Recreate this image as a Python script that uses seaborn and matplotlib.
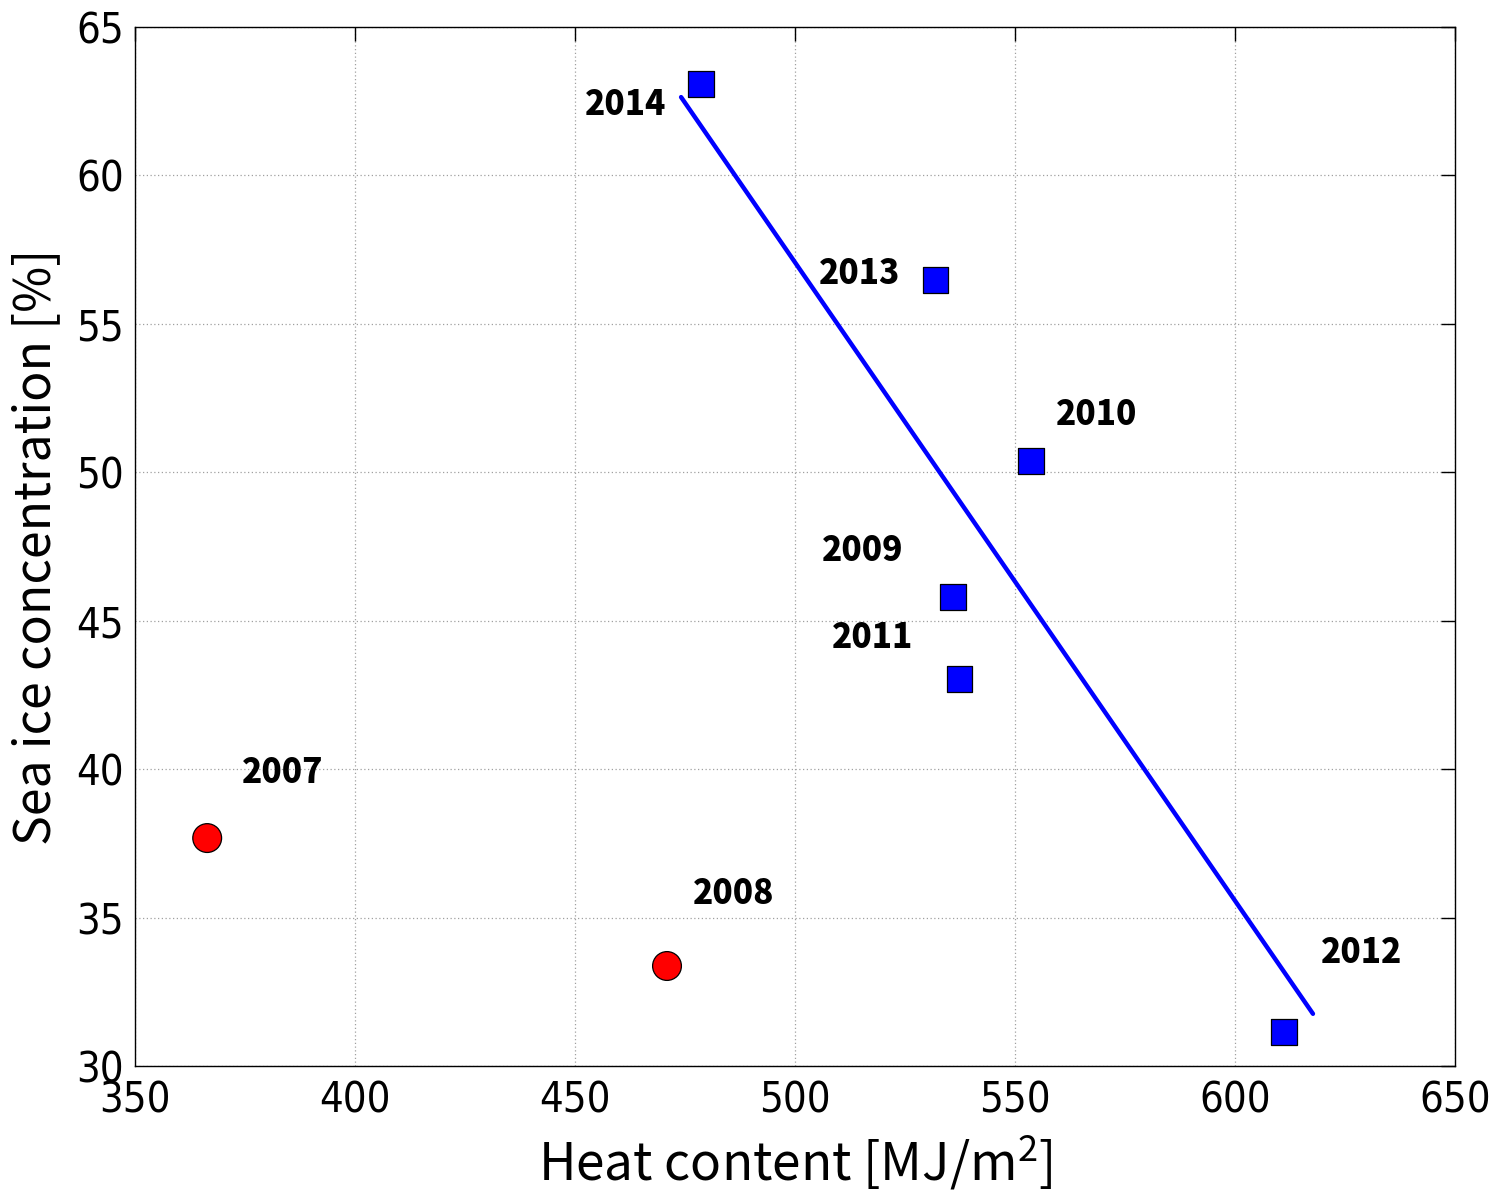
import matplotlib
matplotlib.use("Agg")
import matplotlib.pyplot as plt
import seaborn as sns
import pandas as pd
from matplotlib import font_manager

years = ["2007", "2008", "2009", "2010", "2011", "2012", "2013", "2014"]
heat = [366.4, 470.9, 535.9, 553.6, 537.3, 611.1, 532.0, 478.6]
ice = [37.68, 33.37, 45.8, 50.38, 43.04, 31.15, 56.48, 63.08]
group = ["early", "early", "late", "late", "late", "late", "late", "late"]
fit_x = [474.1, 617.7]
fit_y = [62.64, 31.76]
xticks = [350, 400, 450, 500, 550, 600, 650]
yticks = [30, 35, 40, 45, 50, 55, 60, 65]

# label offsets in points (layout)
offsets = {"2007": (54, 47.5), "2008": (48, 52.5), "2014": (-54, -14.4),
           "2013": (-54.7, 5), "2010": (47.5, 33.8), "2009": (-64.8, 33.8),
           "2011": (-62.6, 30.2), "2012": (56, 56.9)}

sns.set_style("white")
plt.rcParams["font.family"] = ["Noto Sans CJK JP", "DejaVu Sans"]
plt.rcParams["mathtext.fontset"] = "custom"
plt.rcParams["mathtext.rm"] = "Noto Sans CJK JP"
for k in ["text.color", "axes.labelcolor", "xtick.color", "ytick.color",
          "xtick.labelcolor", "ytick.labelcolor"]:
    plt.rcParams[k] = "black"

names = {f.name for f in font_manager.fontManager.ttflist}
if "Liberation Sans Narrow" in names:
    tickfont = dict(fontfamily="Liberation Sans Narrow", fontsize=32)
else:
    tickfont = dict(fontfamily="DejaVu Sans", fontstretch="condensed", fontsize=30)

df = pd.DataFrame({"year": years, "heat": heat, "ice": ice, "group": group})
fit = pd.DataFrame({"x": fit_x, "y": fit_y})

fig = plt.figure(figsize=(14.97, 11.97), dpi=100)
ax = fig.add_axes([0.0902, 0.1094, 0.8818, 0.868])

sns.lineplot(data=fit, x="x", y="y", ax=ax, color="#0000ff", linewidth=3.2, zorder=2)
sns.scatterplot(data=df, x="heat", y="ice", hue="group", style="group",
                size="group", sizes={"early": 430, "late": 330},
                palette={"early": "#ff0000", "late": "#0000ff"},
                markers={"early": "o", "late": "s"},
                edgecolor="black", linewidth=0.9,
                ax=ax, legend=False, zorder=3)

for y, hx, ic in zip(years, heat, ice):
    ax.annotate(y, (hx, ic), xytext=offsets[y], textcoords="offset points",
                ha="center", va="center", fontsize=24, fontweight="heavy",
                color="black", family=["Noto Sans CJK JP", "DejaVu Sans"])

ax.set_xlim(350, 650)
ax.set_ylim(30, 65)
ax.set_xticks(xticks)
ax.set_xticklabels([str(v) for v in xticks], **tickfont)
ax.set_yticks(yticks)
ax.set_yticklabels([str(v) for v in yticks], **tickfont)
ax.grid(True, linestyle=(0, (1, 2)), color="#a0a0a0", linewidth=0.9)
for sp in ax.spines.values():
    sp.set_visible(True)
    sp.set_color("black")
    sp.set_linewidth(1.0)
ax.tick_params(direction="in", length=10, width=1, top=True, right=True, pad=8)
ax.tick_params(axis="x", pad=10)
ax.set_xlabel(r"Heat content [MJ/m$^{2}$]", fontsize=37, labelpad=8)
ax.set_ylabel("Sea ice concentration [%]", fontsize=36, labelpad=10)

fig.savefig("out.png", dpi=100)
